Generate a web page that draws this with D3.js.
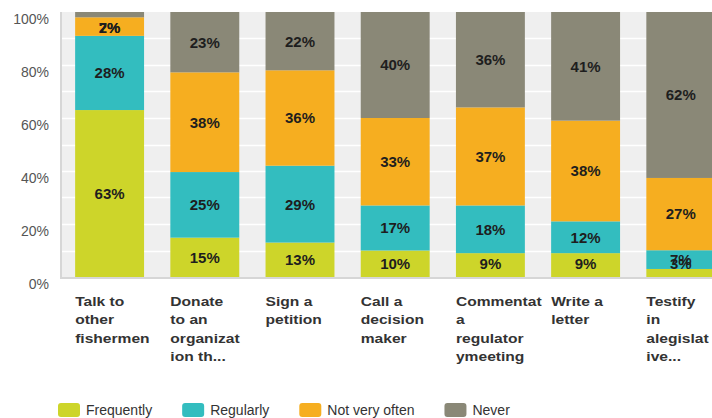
<!DOCTYPE html>
<html>
<head>
<meta charset="utf-8">
<script src="https://cdn.jsdelivr.net/npm/d3@7"></script>
<style>
  body { margin: 0; background: #fff; }
  svg { display: block; font-family: "Liberation Sans", Arial, sans-serif; }
</style>
</head>
<body>
<div id="chart"></div>
<script>
// data (percent of respondents)
var categories = ["Talk to other fishermen", "Donate to an organization", "Sign a petition",
    "Call a decision maker", "Comment at a regulatory meeting", "Write a letter", "Testify in a legislative hearing"]
// what the axis shows (wrapped and cut like the original)
var categoryLines = [
    ["Talk to", "other", "fishermen"],
    ["Donate", "to an", "organizat", "ion th..."],
    ["Sign a", "petition"],
    ["Call a", "decision", "maker"],
    ["Commentat", "a", "regulator", "ymeeting"],
    ["Write a", "letter"],
    ["Testify", "in", "alegislat", "ive..."]
]
var seriesNames = ["Frequently", "Regularly", "Not very often", "Never"]
var frequently = [63, 15, 13, 10, 9, 9, 3]
var regularly = [28, 25, 29, 17, 18, 12, 7]
var notVeryOften = [7, 38, 36, 33, 37, 38, 27]
var never = [2, 23, 22, 40, 36, 41, 62]
var yTicks = [0, 20, 40, 60, 80, 100]
var colors = ["#cdd52a", "#33bdbf", "#f6ae20", "#8a8877"]

var width = 712
var height = 418
var margin = { top: 12, left: 62, bottom: 141 }
var plotBottom = height - margin.bottom

var rows = categories.map(function (c, i) {
    return { cat: c, "Frequently": frequently[i], "Regularly": regularly[i],
        "Not very often": notVeryOften[i], "Never": never[i] }
})

var svg = d3.select("#chart").append("svg")
    .attr("width", width)
    .attr("height", height)

var x = d3.scaleBand()
    .domain(categories)
    .range([margin.left, margin.left + 7 * 95.2])
    .paddingInner(0.276)
    .paddingOuter(0.138)

var y = d3.scaleLinear()
    .domain([0, 1])
    .range([plotBottom, margin.top])

// plot background
svg.append("rect")
    .attr("x", margin.left)
    .attr("y", margin.top)
    .attr("width", width - margin.left)
    .attr("height", plotBottom - margin.top)
    .attr("fill", "#efefef")

// white grid every 10%
svg.append("g")
    .selectAll("line")
    .data(d3.range(0.1, 1, 0.1))
    .enter()
    .append("line")
    .attr("x1", margin.left)
    .attr("x2", width)
    .attr("y1", function (d) { return Math.round(y(d)) + 0.5 })
    .attr("y2", function (d) { return Math.round(y(d)) + 0.5 })
    .attr("stroke", "#fff")
    .attr("stroke-width", 1.5)

// axis border
svg.append("path")
    .attr("d", "M" + (margin.left - 1) + "," + margin.top + "V" + (plotBottom + 1) + "H" + width)
    .attr("fill", "none")
    .attr("stroke", "#d6d6d6")
    .attr("stroke-width", 2)

// y tick labels
var yAxis = svg.append("g")
    .attr("transform", "translate(49,0)")
    .call(d3.axisLeft(y).tickValues(yTicks.map(function (t) { return t / 100 }))
        .tickFormat(function (d) { return Math.round(d * 100) + "%" })
        .tickSize(0).tickPadding(0))
yAxis.select(".domain").remove()
yAxis.selectAll("text")
    .attr("dy", "0.85em")
    .attr("y", 0)
    .style("font-size", "14px")
    .style("font-family", "'Liberation Sans', Arial, sans-serif")
    .attr("fill", "#555")

// stacked bars, expanded to 100%
var stack = d3.stack()
    .keys(seriesNames)
    .offset(d3.stackOffsetExpand)
var layers = stack(rows)

svg.append("g")
    .selectAll("g")
    .data(layers)
    .enter()
    .append("g")
    .attr("fill", function (d, i) { return colors[i] })
    .selectAll("rect")
    .data(function (d) { return d })
    .enter()
    .append("rect")
    .attr("x", function (d) { return x(d.data.cat) })
    .attr("width", x.bandwidth())
    .attr("y", function (d) { return y(d[1]) })
    .attr("height", function (d) { return y(d[0]) - y(d[1]) })

// value labels on top of every bar, kept inside the plot like the original
var labelData = []
layers.forEach(function (layer) {
    layer.forEach(function (d) { labelData.push({ seg: d, key: layer.key }) })
})
svg.append("g")
    .selectAll("text")
    .data(labelData)
    .enter()
    .append("text")
    .attr("x", function (d) { return x(d.seg.data.cat) + x.bandwidth() / 2 })
    .attr("y", function (d) {
        var mid = (y(d.seg[0]) + y(d.seg[1])) / 2
        return Math.max(28, Math.min(264, mid))
    })
    .attr("dy", "0.36em")
    .attr("text-anchor", "middle")
    .attr("fill", "#1e1e1e")
    .style("font-size", "15px")
    .style("font-weight", "bold")
    .text(function (d) { return d.seg.data[d.key] + "%" })

// category labels
var catLabels = svg.append("g")
    .selectAll("text")
    .data(categories)
    .enter()
    .append("text")
    .attr("transform", function (d) { return "translate(" + x(d) + ",306) scale(1.2,1)" })
    .attr("fill", "#333")
    .style("font-size", "13px")
    .style("font-weight", "bold")

catLabels.selectAll("tspan")
    .data(function (d, i) { return categoryLines[i] })
    .enter()
    .append("tspan")
    .attr("x", 0)
    .attr("y", function (d, i) { return i * 18.5 })
    .text(function (d) { return d })

// legend
var legend = svg.append("g").attr("transform", "translate(58,403)")
var lx = 0
seriesNames.forEach(function (name, i) {
    var item = legend.append("g").attr("transform", "translate(" + lx + ",0)")
    item.append("rect")
        .attr("width", 22)
        .attr("height", 14)
        .attr("rx", 3)
        .attr("fill", colors[i])
    var t = item.append("text")
        .attr("x", 28)
        .attr("y", 12)
        .attr("fill", "#333")
        .style("font-size", "14px")
        .text(name)
    lx += 28 + t.node().getComputedTextLength() + 30
})
</script>
</body>
</html>
